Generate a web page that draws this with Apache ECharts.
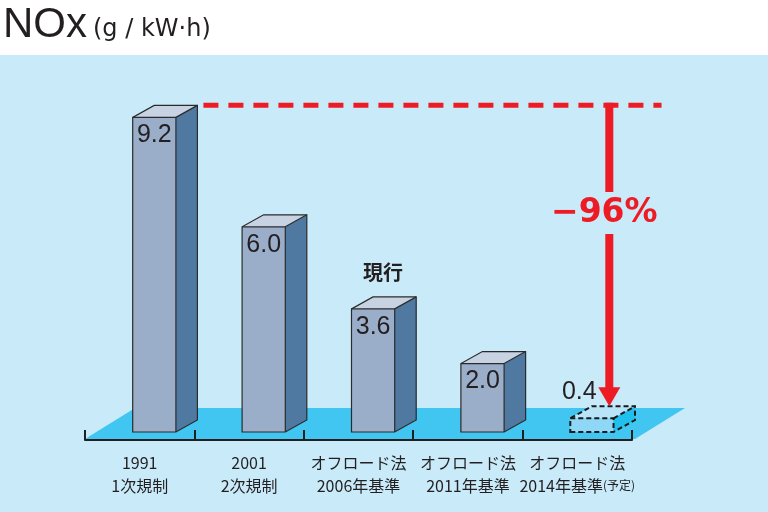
<!DOCTYPE html>
<html><head><meta charset="utf-8">
<script src="https://cdn.jsdelivr.net/npm/echarts@6/dist/echarts.min.js"></script>
<style>html,body{margin:0;padding:0;background:#fff}#c{width:768px;height:512px}</style>
</head><body><div id="c"></div>
<script>
const categories = ["1991\n1次規制", "2001\n2次規制", "オフロード法\n2006年基準", "オフロード法\n2011年基準", "オフロード法\n2014年基準(予定)"];
const values = [9.2, 6.0, 3.6, 2.0, 0.4];
const valueLabels = ["9.2", "6.0", "3.6", "2.0", "0.4"];
const planned = [false, false, false, false, true];
const currentIndex = 2;
const currentLabel = "現行";
const reductionLabel = "−96%";
const titleMain = "NOx";
const titleUnit = "(g / kW·h)";

const DX = 21.5, DY = -12;      // bar depth offset
const SHIFT_X = -7, SHIFT_Y = -8; // bar front-left offset from category center / base
const RED = '#ed1c24';

function barGeom(api, i, v) {
  const bw = api.size([1, 0])[0];
  const base = api.coord([i, 0]);
  const top = api.coord([i, v]);
  const w = bw * 0.395;
  const x0 = base[0] + SHIFT_X, x1 = x0 + w;
  const yb = base[1] + SHIFT_Y, yt = top[1] + SHIFT_Y;
  return {x0, x1, yb, yt, bw};
}

const chart = echarts.init(document.getElementById('c'));
chart.setOption({
  backgroundColor: '#c8eaf9',
  animation: false,
  graphic: [
    {type: 'rect', shape: {x: 0, y: 0, width: 768, height: 55}, style: {fill: '#ffffff'}, z: 0},
    {type: 'text', x: 3, y: 46, style: {text: titleMain, font: '42px "Liberation Sans"', fill: '#231f20', verticalAlign: 'bottom'}},
    {type: 'text', x: 93, y: 42, style: {text: titleUnit, font: '24px "DejaVu Sans"', fill: '#231f20', verticalAlign: 'bottom'}}
  ],
  grid: {left: 85, right: 136, top: 98, bottom: 72},
  xAxis: {
    type: 'category', data: categories, z: 10,
    axisLine: {lineStyle: {color: '#231f20', width: 2}},
    axisTick: {show: true, inside: true, length: 10, interval: 0, lineStyle: {color: '#231f20', width: 2}},
    axisLabel: {
      interval: 0, hideOverlap: false,
      color: '#231f20', fontSize: 16, fontFamily: '"Noto Sans CJK JP"', lineHeight: 23, margin: 11,
      formatter: v => v.replace('(予定)', '{s|(予定)}'),
      rich: {s: {fontSize: 12, fontFamily: '"Noto Sans CJK JP"', color: '#231f20'}}
    }
  },
  yAxis: {type: 'value', min: 0, max: 10, show: false, splitLine: {show: false}},
  series: [
    { // floor
      type: 'custom', z: 0, silent: true,
      data: [[0, 0]],
      encode: {x: 0, y: 1},
      renderItem: function (params, api) {
        const bw = api.size([1, 0])[0];
        const l = api.coord([0, 0])[0] - bw / 2;
        const r = api.coord([categories.length - 1, 0])[0] + bw / 2;
        const y = api.coord([0, 0])[1] - 1;
        return {type: 'polygon', shape: {points: [[l, y], [r + 3, y], [r + 53, y - 31], [l + 50, y - 31]]},
                style: {fill: '#41c6f1'}};
      }
    },
    { // bars
      type: 'custom', z: 3,
      data: values.map((v, i) => [i, v]),
      encode: {x: 0, y: 1},
      renderItem: function (params, api) {
        const i = api.value(0), v = api.value(1);
        const g = barGeom(api, i, v);
        const {x0, x1, yb, yt} = g;
        const isPlan = planned[i];
        const stroke = isPlan ? '#1a1a1a' : '#2b2b2b';
        const lw = isPlan ? 2 : 1.2;
        const dash = isPlan ? [5, 3] : null;
        const cFront = isPlan ? '#8fd7f6' : '#9aaeca';
        const cSide = isPlan ? '#1fbfee' : '#4f79a1';
        const cTop = isPlan ? '#b9e4f7' : '#c7d2e3';
        const children = [
          {type: 'polygon', shape: {points: [[x0, yb], [x1, yb], [x1, yt], [x0, yt]]}, style: {fill: cFront}},
          {type: 'polygon', shape: {points: [[x1, yb], [x1 + DX, yb + DY], [x1 + DX, yt + DY], [x1, yt]]}, style: {fill: cSide}},
          {type: 'polygon', shape: {points: [[x0, yt], [x1, yt], [x1 + DX, yt + DY], [x0 + DX, yt + DY]]}, style: {fill: cTop}},
          {type: 'polygon', shape: {points: [[x0, yb], [x1, yb], [x1 + DX, yb + DY], [x1 + DX, yt + DY], [x0 + DX, yt + DY], [x0, yt]]},
           style: {fill: null, stroke: stroke, lineWidth: lw, lineDash: dash}},
          {type: 'polyline', shape: {points: [[x0, yt], [x1, yt], [x1, yb]]}, style: {fill: null, stroke: stroke, lineWidth: lw, lineDash: dash}},
          {type: 'line', shape: {x1: x1, y1: yt, x2: x1 + DX, y2: yt + DY}, style: {stroke: stroke, lineWidth: lw, lineDash: dash}}
        ];
        if (isPlan) {
          children.push({type: 'text', x: x0 + 9, y: yt - 26,
            style: {text: valueLabels[i], font: '25px "Liberation Sans"', fill: '#231f20', align: 'center', verticalAlign: 'middle'}});
        } else {
          children.push({type: 'text', x: (x0 + x1) / 2, y: yt + 18,
            style: {text: valueLabels[i], font: '25px "Liberation Sans"', fill: '#231f20', align: 'center', verticalAlign: 'middle'}});
        }
        if (i === currentIndex) {
          children.push({type: 'text', x: (x0 + x1) / 2 + 10, y: yt - 36,
            style: {text: currentLabel, font: 'bold 20px "Noto Sans CJK JP"', fill: '#231f20', align: 'center', verticalAlign: 'middle'}});
        }
        return {type: 'group', children: children};
      }
    },
    { // reduction annotation
      type: 'custom', z: 4, silent: true,
      data: [[0, values[0]]],
      encode: {x: 0, y: 1},
      renderItem: function (params, api) {
        const first = barGeom(api, 0, values[0]);
        const lastIdx = values.length - 1;
        const last = barGeom(api, lastIdx, values[lastIdx]);
        const yLine = first.yt + DY;
        const xStart = first.x1 + DX + 6;
        const xEnd = api.coord([lastIdx, 0])[0] + first.bw * 0.77;
        const ax = last.x0 + 39;
        const tipY = last.yt + DY;
        const headH = 19, headW = 11;
        const textY = 213;
        return {type: 'group', children: [
          {type: 'line', shape: {x1: xStart, y1: yLine, x2: xEnd, y2: yLine}, style: {stroke: RED, lineWidth: 5, lineDash: [15, 10]}},
          {type: 'line', shape: {x1: ax, y1: yLine - 2.5, x2: ax, y2: textY - 21}, style: {stroke: RED, lineWidth: 8}},
          {type: 'line', shape: {x1: ax, y1: textY + 21, x2: ax, y2: tipY - headH + 1}, style: {stroke: RED, lineWidth: 8}},
          {type: 'polygon', shape: {points: [[ax - headW, tipY - headH], [ax + headW, tipY - headH], [ax, tipY]]}, style: {fill: RED}},
          {type: 'text', x: ax - 5, y: textY, style: {text: reductionLabel, font: 'bold 33px "DejaVu Sans"', fill: RED, align: 'center', verticalAlign: 'middle'}}
        ]};
      }
    }
  ]
});
</script></body></html>
